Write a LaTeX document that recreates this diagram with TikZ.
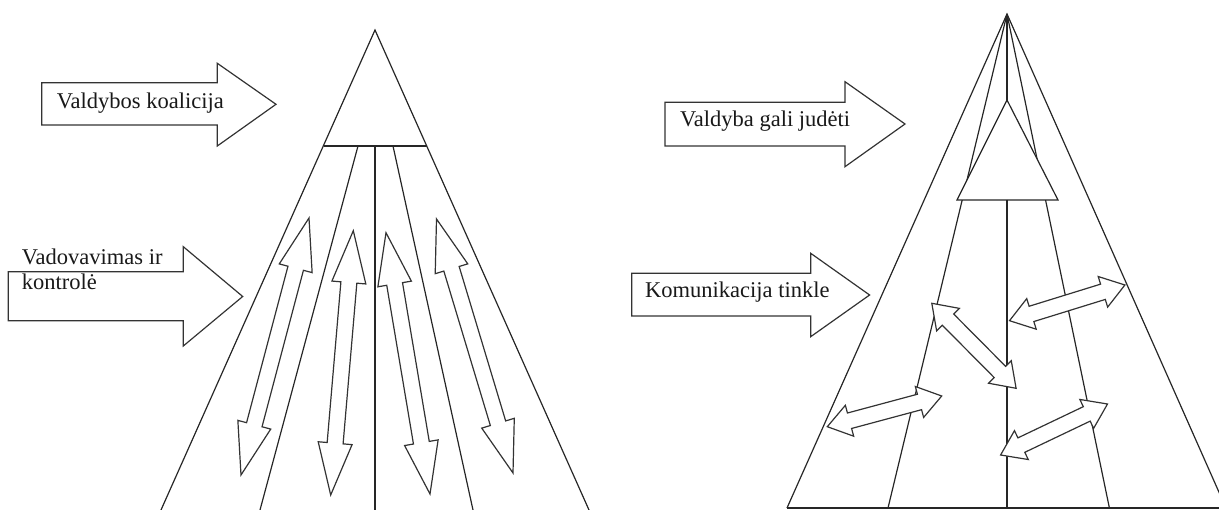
\documentclass[tikz,border=0pt]{standalone}
\usepackage{fontspec}
\setmainfont{Liberation Serif}
\usetikzlibrary{calc}
\tikzset{
  ln/.style={draw=black!85, line width=1.2pt},
  blockarrow/.style={draw=black!80, fill=white, line width=1.2pt, line join=miter},
  lbl/.style={font=\fontsize{22.5}{25}\selectfont, inner sep=0pt, anchor=base west, align=left, text=black!90},
}
% #1,#2 end points; #3 half shaft width; #4 half head width; #5 head length
\newcommand{\dblarr}[5]{%
  \draw[blockarrow]
    ($(#1)!#5!(#2)!#3!90:(#2)$) -- ($(#1)!#5!(#2)!#4!90:(#2)$) -- (#1)
    -- ($(#1)!#5!(#2)!#4!-90:(#2)$) -- ($(#1)!#5!(#2)!#3!-90:(#2)$)
    -- ($(#2)!#5!(#1)!#3!90:(#1)$) -- ($(#2)!#5!(#1)!#4!90:(#1)$) -- (#2)
    -- ($(#2)!#5!(#1)!#4!-90:(#1)$) -- ($(#2)!#5!(#1)!#3!-90:(#1)$) -- cycle;}
\begin{document}
\begin{tikzpicture}[x=1pt,y=-1pt]
\useasboundingbox (0,0) rectangle (1219,510);

% ---------------- left figure ----------------
\coordinate (LA) at (375,30);
\coordinate (LBl) at (323.5,146);
\coordinate (LBr) at (426.5,146);
\coordinate (LL) at (161,510);
\coordinate (LR) at (589,510);
\coordinate (Lt1) at (358,146); \coordinate (Lb1) at (260,510);
\coordinate (Lt2) at (375,146); \coordinate (Lb2) at (375,510);
\coordinate (Lt3) at (393,146); \coordinate (Lb3) at (473,510);
\draw[ln] (LL) -- (LA) -- (LR);
\draw[ln] (LBl) -- (LBr);
\draw[ln] (Lt1) -- (Lb1);
\draw[ln] (Lt2) -- (Lb2);
\draw[ln] (Lt3) -- (Lb3);

\coordinate (a1s) at (309,218);   \coordinate (a1e) at (241,475);
\coordinate (a2s) at (353.3,230.7); \coordinate (a2e) at (330.7,495);
\coordinate (a3s) at (386,232.7); \coordinate (a3e) at (430,494);
\coordinate (a4s) at (436.5,219); \coordinate (a4e) at (513,473);
\dblarr{a1s}{a1e}{8pt}{17pt}{52pt}
\dblarr{a2s}{a2e}{8pt}{17pt}{52pt}
\dblarr{a3s}{a3e}{8pt}{17pt}{52pt}
\dblarr{a4s}{a4e}{8pt}{17pt}{52pt}

% text arrows (left)
\draw[blockarrow] (41.7,82.7) -- (217.3,82.7) -- (217.3,63.3) -- (276,104.3)
  -- (217.3,146) -- (217.3,125) -- (41.7,125) -- cycle;
\node[lbl] (t1) at (56.7,108.5) {Valdybos koalicija};

\draw[blockarrow] (8.3,271.7) -- (183.3,271.7) -- (183.3,246.7) -- (242.7,296.5)
  -- (183.3,346) -- (183.3,320.7) -- (8.3,320.7) -- cycle;
\node[lbl] (t2) at (21.7,290) {Vadovavimas ir\\kontrolė};

% ---------------- right figure ----------------
\coordinate (RA) at (1007,14);
\coordinate (RL) at (787,508);
\coordinate (RR) at (1226,508);
\coordinate (Rb1) at (888,508);
\coordinate (Rb2) at (1007,508);
\coordinate (Rb3) at (1109.4,508);
\draw[ln] (RL) -- (RA) -- (RR);
\draw[ln] (RL) -- (RR);
\draw[ln] (RA) -- (Rb1);
\draw[ln] (RA) -- (Rb2);
\draw[ln] (RA) -- (Rb3);
\coordinate (TA) at (1007,100);
\coordinate (TL) at (957,200);
\coordinate (TR) at (1058,200);
\draw[ln, fill=white] (TA) -- (TL) -- (TR) -- cycle;
\draw[ln] (1007,200) -- (Rb2);

\coordinate (bAs) at (1009.5,320.7); \coordinate (bAe) at (1124.9,285);
\coordinate (bBs) at (931.8,303.3);  \coordinate (bBe) at (1016.1,388.3);
\coordinate (bCs) at (827.3,426.7);  \coordinate (bCe) at (941.7,396);
\coordinate (bDs) at (1000.6,455);   \coordinate (bDe) at (1107.5,404);
\dblarr{bAs}{bAe}{8pt}{16pt}{23pt}
\dblarr{bBs}{bBe}{8pt}{16pt}{23pt}
\dblarr{bCs}{bCe}{8pt}{16pt}{23pt}
\dblarr{bDs}{bDe}{8pt}{16pt}{23pt}

% text arrows (right)
\draw[blockarrow] (665,102.3) -- (845,102.3) -- (845,81.7) -- (905,124)
  -- (845,166.7) -- (845,146) -- (665,146) -- cycle;
\node[lbl] (t3) at (680,127) {Valdyba gali judėti};

\draw[blockarrow] (631.7,273.3) -- (810.7,273.3) -- (810.7,253.3) -- (869.6,295)
  -- (810.7,336.7) -- (810.7,316) -- (631.7,316) -- cycle;
\node[lbl] (t4) at (645,298) {Komunikacija tinkle};
\end{tikzpicture}
\end{document}
